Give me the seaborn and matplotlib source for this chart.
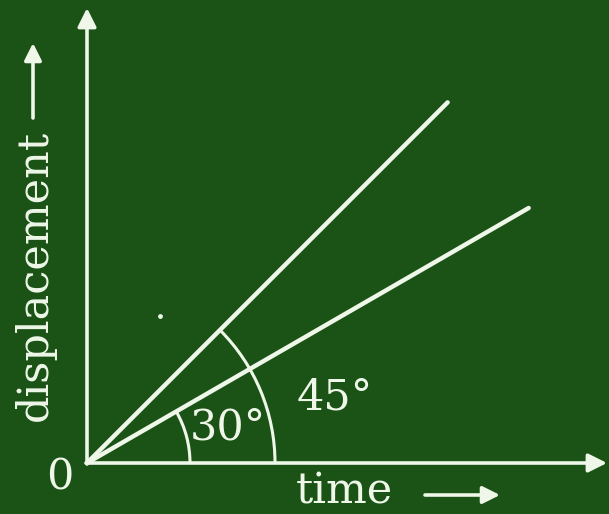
import numpy as np
import pandas as pd
import matplotlib.pyplot as plt
import seaborn as sns
from matplotlib.patches import Arc

# chart values
angles_deg = [45, 30]          # slope angles of the two displacement-time lines
line_lengths = [510, 510]      # drawn length of each line
angle_labels = ["45°", "30°"]
arc_radii = [188, 103]
x_label = "time"
y_label = "displacement"
origin_label = "0"

bg = "#1b5216"
fg = "#eef7e8"

sns.set_theme(style="white")
plt.rcParams["font.family"] = ["DejaVu Serif", "DejaVu Sans"]

fig = plt.figure(figsize=(6.09, 5.14), dpi=100, facecolor=bg)
ax = fig.add_axes([0, 0, 1, 1])
ax.set_facecolor(bg)
# 1 data unit = 1 pixel, origin where the axes meet
ax.set_xlim(-87, 522)
ax.set_ylim(-51, 463)
ax.set_aspect("equal")
ax.axis("off")

# the two lines from the origin
rows = []
for ang, length in zip(angles_deg, line_lengths):
    t = np.radians(ang)
    rows.append({"x": 0, "y": 0, "line": ang})
    rows.append({"x": length * np.cos(t), "y": length * np.sin(t), "line": ang})
df = pd.DataFrame(rows)
sns.lineplot(data=df, x="x", y="y", units="line", estimator=None,
             color=fg, lw=3.2, ax=ax, legend=False, solid_capstyle="round")

# axes with arrows
arrow_kw = dict(arrowstyle="-|>", color=fg, lw=2.6, mutation_scale=28,
                shrinkA=0, shrinkB=0)
ax.annotate("", xy=(520, 0), xytext=(-1, 0), arrowprops=arrow_kw)
ax.annotate("", xy=(0, 455), xytext=(0, -1), arrowprops=arrow_kw)

# angle arcs
for ang, r in zip(angles_deg, arc_radii):
    ax.add_patch(Arc((0, 0), 2 * r, 2 * r, theta1=0, theta2=ang,
                     color=fg, lw=2.2))

text_kw = dict(color=fg, fontsize=31, ha="center", va="center")

# angle labels
ax.text(248, 65, angle_labels[0], **text_kw)
ax.text(141, 35, angle_labels[1], **text_kw)

# origin and axis labels
ax.text(-27, -15, origin_label, **text_kw)
ax.text(257, -29, x_label, **text_kw)
ax.annotate("", xy=(413, -32), xytext=(338, -32),
            arrowprops=dict(arrowstyle="-|>", color=fg, lw=2.6,
                            mutation_scale=26, shrinkA=0, shrinkB=0))
ax.text(-52, 188, y_label, rotation=90, **text_kw)
ax.annotate("", xy=(-54, 420), xytext=(-54, 345),
            arrowprops=dict(arrowstyle="-|>", color=fg, lw=2.6,
                            mutation_scale=26, shrinkA=0, shrinkB=0))

# small stray dot
ax.scatter([73], [147], s=6, color=fg, zorder=3)

fig.savefig("out.png", dpi=100, facecolor=bg)
